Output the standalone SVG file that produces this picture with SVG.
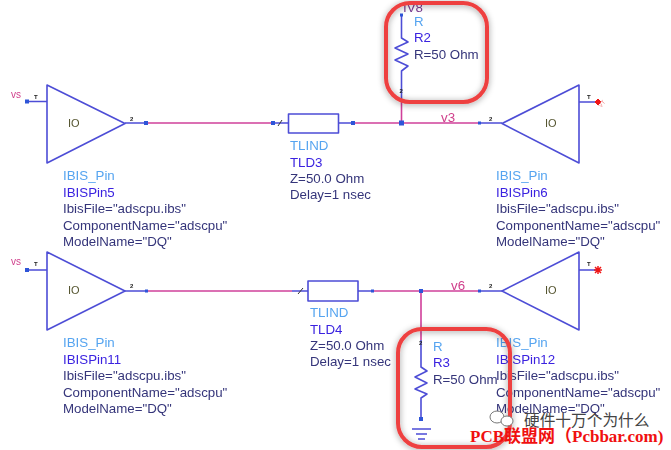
<svg xmlns="http://www.w3.org/2000/svg" width="671" height="450" viewBox="0 0 671 450">
<defs>
<style>
text{font-family:"Liberation Sans",Arial,sans-serif;font-size:13.3px;fill:#3a3a78}
.t{fill:#55a4f0}.n{fill:#3a22e0}.p{fill:#35357a}
.net{fill:#d0408c}
.pin{font-size:6px;font-weight:bold;fill:#222}
.io{fill:#555530;font-size:11px}
.b{fill:none;stroke:#4d4dd6;stroke-width:1.6;stroke-linejoin:round}
.w{fill:none;stroke:#d0409a;stroke-width:1.6}
.d{fill:#2f55d8}
.hl{fill:none;stroke:#ee4040;stroke-width:4}
</style>
<filter id="soft" x="-5%" y="-5%" width="110%" height="110%"><feGaussianBlur stdDeviation="0.4"/></filter>
<filter id="sh" x="-20%" y="-20%" width="140%" height="140%"><feDropShadow dx="0" dy="1" stdDeviation="3" flood-color="#000" flood-opacity="0.4"/></filter>
</defs>
<rect width="671" height="450" fill="#fff"/>
<g filter="url(#soft)">
<g id="connectors">
<path class="w" d="M146 123H273M352 123H480"/>
<path class="w" d="M401.500 123V100"/>
<path class="w" d="M147 291H292M373 291H480M421 291V340"/>
<path class="b" d="M125 123H146M273 123H288M339 123H352M480 123H502"/>
<path class="b" d="M125 291H147M292 291H308M358 291H373M480 291H502"/>
<rect class="d" x="399" y="120.500" width="5" height="5"/>
<rect class="d" x="144" y="121" width="4" height="4"/>
<rect class="d" x="271" y="121" width="4" height="4"/>
<rect class="d" x="351" y="121" width="4" height="4"/>
<rect class="d" x="478" y="121.500" width="3" height="3"/>
<rect class="d" x="145" y="289.500" width="3" height="3"/>
<rect class="d" x="419" y="289" width="4" height="4"/>
<rect class="d" x="478" y="289.500" width="3" height="3"/>
<rect class="d" x="371" y="289.500" width="3" height="3"/>
<path d="M278 126l4-6M298 294l5-6" stroke="#333" fill="none"/>
<text class="net" x="441" y="122">v3</text>
<text class="net" x="451" y="290">v6</text>
</g>
<g id="IBISPin5">
<path class="b" d="M47 85V163L125 123.500ZM27 101.500H47"/>
<rect class="d" x="25" y="99.500" width="4" height="4"/>
<text class="net" x="11" y="98" style="font-size:10px">vs</text>
<text class="pin" x="34" y="99">T</text><text class="pin" x="130" y="121">2</text>
<text class="io" x="68" y="127">IO</text>
<text class="t" x="63" y="180">IBIS_Pin</text><text class="n" x="63" y="196.500">IBISPin5</text>
<text class="p" x="63" y="213">IbisFile="adscpu.ibs"</text><text class="p" x="63" y="229.500">ComponentName="adscpu"</text><text class="p" x="63" y="246">ModelName="DQ"</text>
</g>
<g id="IBISPin6">
<path class="b" d="M502 123.500L579 85V163ZM579 102H598"/>
<path d="M595 102l3-3l3 3l-3 3Z" fill="#f01818" stroke="#f01818"/>
<text class="pin" x="587" y="99">T</text><text class="pin" x="489" y="121">2</text>
<text class="io" x="545" y="127">IO</text>
<text transform="translate(601 108) rotate(-50)" style="font-size:6px;fill:#f08080">VT</text>
<text class="t" x="496" y="180">IBIS_Pin</text><text class="n" x="496" y="196.500">IBISPin6</text>
<text class="p" x="496" y="213">IbisFile="adscpu.ibs"</text><text class="p" x="496" y="229.500">ComponentName="adscpu"</text><text class="p" x="496" y="246">ModelName="DQ"</text>
</g>
<g id="TLD3">
<rect class="b" x="288.500" y="114" width="50" height="19"/>
<text class="t" x="290" y="150">TLIND</text><text class="n" x="290" y="166.500">TLD3</text>
<text class="p" x="290" y="183">Z=50.0 Ohm</text><text class="p" x="290" y="199">Delay=1 nsec</text>
</g>
<g id="R2">
<path class="b" d="M401.500 15V38L408 42L395 48L408 54L395 60L408 66L401.500 71V100"/>
<rect class="d" x="400" y="13.500" width="3" height="3"/>
<text class="pin" x="399.500" y="93">2</text>
<text x="403" y="12" style="fill:#7a3a90">IV8</text>
<text class="t" x="414" y="26">R</text><text class="n" x="414" y="42">R2</text><text class="p" x="414" y="59">R=50 Ohm</text>
</g>
<g id="IBISPin11">
<path class="b" d="M47 252V330L125 291ZM27 270H47"/>
<rect class="d" x="25" y="268" width="4" height="4"/>
<text class="net" x="11" y="265" style="font-size:10px">vs</text>
<text class="pin" x="34" y="266">T</text><text class="pin" x="130" y="288">2</text>
<text class="io" x="68" y="294">IO</text>
<text class="t" x="63" y="347">IBIS_Pin</text><text class="n" x="63" y="363.500">IBISPin11</text>
<text class="p" x="63" y="380">IbisFile="adscpu.ibs"</text><text class="p" x="63" y="396.500">ComponentName="adscpu"</text><text class="p" x="63" y="413">ModelName="DQ"</text>
</g>
<g id="IBISPin12">
<path class="b" d="M502 291L579 252V330ZM579 270H598"/>
<path d="M594 270h8M598 266v8M595 267l6 6M595 273l6-6" stroke="#f01818" stroke-width="1.500"/>
<text class="pin" x="587" y="266">T</text><text class="pin" x="489" y="288">2</text>
<text class="io" x="545" y="294">IO</text>
<text class="t" x="496" y="347">IBIS_Pin</text><text class="n" x="496" y="363.500">IBISPin12</text>
<text class="p" x="496" y="380">IbisFile="adscpu.ibs"</text><text class="p" x="496" y="396.500">ComponentName="adscpu"</text><text class="p" x="496" y="413">ModelName="DQ"</text>
</g>
<g id="TLD4">
<rect class="b" x="308" y="281" width="50" height="20"/>
<text class="t" x="310" y="317">TLIND</text><text class="n" x="310" y="333.500">TLD4</text>
<text class="p" x="310" y="350">Z=50.0 Ohm</text><text class="p" x="310" y="366">Delay=1 nsec</text>
</g>
<g id="R3">
<path class="b" d="M421 340V367L427 371L415 377L427 383L415 389L427 394L421 398V419"/>
<rect class="d" x="419" y="417" width="4" height="4"/>
<path class="b" d="M412 429H431M416 434H427M418 439H425"/>
<text class="pin" x="419" y="345">2</text>
<text class="t" x="433" y="351">R</text><text class="n" x="433" y="367">R3</text><text class="p" x="433" y="384">R=50 Ohm</text>
</g>
</g>
<g id="highlights">
<rect class="hl" x="386" y="3" width="101" height="99" rx="24" filter="url(#sh)"/>
<rect class="hl" x="398" y="329" width="112" height="118" rx="24" filter="url(#sh)"/>
</g>
<g id="watermark">
<g fill="#fff" stroke="#777" stroke-width="1"><ellipse cx="497" cy="417" rx="7" ry="6"/><ellipse cx="507" cy="421" rx="6" ry="5"/></g>
<text x="524" y="426" style="font-family:'Noto Sans CJK SC',sans-serif;font-size:15.700px;fill:#444">硬件十万个为什么</text>
<text x="470" y="442" style="font-family:'Liberation Serif','Noto Sans CJK SC',serif;font-size:17px;font-weight:bold;fill:#f01010">PCB联盟网（Pcbbar.com)</text>
</g>
</svg>
